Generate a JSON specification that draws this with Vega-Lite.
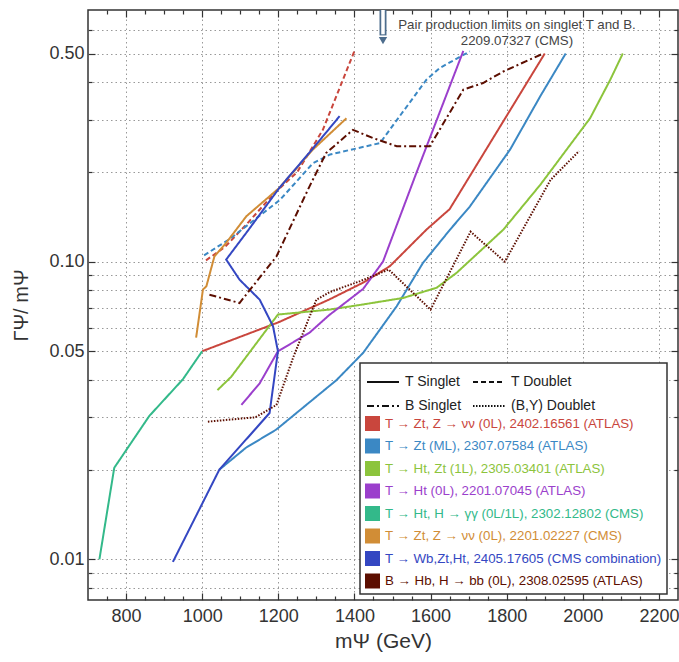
{
  "$schema": "https://vega.github.io/schema/vega-lite/v6.json",
  "width": 590,
  "height": 590,
  "autosize": "none",
  "padding": {"left": 88, "top": 10, "right": 1, "bottom": 62},
  "config": {
    "font": "Liberation Sans",
    "view": {"stroke": "#333", "strokeWidth": 1.5},
    "axis": {
      "labelFont": "Liberation Sans",
      "titleFont": "Liberation Sans",
      "labelColor": "#333",
      "titleColor": "#333",
      "tickColor": "#333",
      "tickWidth": 1.2,
      "domain": false,
      "gridColor": "#999",
      "gridDash": [1.5, 3],
      "gridWidth": 1,
      "titleFontWeight": "normal"
    }
  },
  "datasets": {
    "curves": [
      {"a": "A1", "s": "T Singlet", "i": 1, "m": 1000, "g": 0.05},
      {"a": "A1", "s": "T Singlet", "i": 2, "m": 1200, "g": 0.0625},
      {"a": "A1", "s": "T Singlet", "i": 3, "m": 1333, "g": 0.0745},
      {"a": "A1", "s": "T Singlet", "i": 4, "m": 1423, "g": 0.085},
      {"a": "A1", "s": "T Singlet", "i": 5, "m": 1493, "g": 0.0965},
      {"a": "A1", "s": "T Singlet", "i": 6, "m": 1589, "g": 0.128},
      {"a": "A1", "s": "T Singlet", "i": 7, "m": 1650, "g": 0.15},
      {"a": "A1", "s": "T Singlet", "i": 8, "m": 1900, "g": 0.5},
      {"a": "A1", "s": "T Doublet", "i": 1, "m": 1010, "g": 0.101},
      {"a": "A1", "s": "T Doublet", "i": 2, "m": 1060, "g": 0.112},
      {"a": "A1", "s": "T Doublet", "i": 3, "m": 1120, "g": 0.135},
      {"a": "A1", "s": "T Doublet", "i": 4, "m": 1190, "g": 0.17},
      {"a": "A1", "s": "T Doublet", "i": 5, "m": 1250, "g": 0.2},
      {"a": "A1", "s": "T Doublet", "i": 6, "m": 1317, "g": 0.277},
      {"a": "A1", "s": "T Doublet", "i": 7, "m": 1400, "g": 0.51},
      {"a": "A2", "s": "T Singlet", "i": 1, "m": 1045, "g": 0.02},
      {"a": "A2", "s": "T Singlet", "i": 2, "m": 1115, "g": 0.0237},
      {"a": "A2", "s": "T Singlet", "i": 3, "m": 1195, "g": 0.0273},
      {"a": "A2", "s": "T Singlet", "i": 4, "m": 1353, "g": 0.04},
      {"a": "A2", "s": "T Singlet", "i": 5, "m": 1423, "g": 0.0494},
      {"a": "A2", "s": "T Singlet", "i": 6, "m": 1511, "g": 0.0708},
      {"a": "A2", "s": "T Singlet", "i": 7, "m": 1580, "g": 0.099},
      {"a": "A2", "s": "T Singlet", "i": 8, "m": 1651, "g": 0.128},
      {"a": "A2", "s": "T Singlet", "i": 9, "m": 1703, "g": 0.153},
      {"a": "A2", "s": "T Singlet", "i": 10, "m": 1809, "g": 0.238},
      {"a": "A2", "s": "T Singlet", "i": 11, "m": 1888, "g": 0.359},
      {"a": "A2", "s": "T Singlet", "i": 12, "m": 1955, "g": 0.5},
      {"a": "A2", "s": "T Doublet", "i": 1, "m": 1005, "g": 0.105},
      {"a": "A2", "s": "T Doublet", "i": 2, "m": 1072, "g": 0.119},
      {"a": "A2", "s": "T Doublet", "i": 3, "m": 1204, "g": 0.161},
      {"a": "A2", "s": "T Doublet", "i": 4, "m": 1291, "g": 0.214},
      {"a": "A2", "s": "T Doublet", "i": 5, "m": 1336, "g": 0.229},
      {"a": "A2", "s": "T Doublet", "i": 6, "m": 1467, "g": 0.25},
      {"a": "A2", "s": "T Doublet", "i": 7, "m": 1589, "g": 0.408},
      {"a": "A2", "s": "T Doublet", "i": 8, "m": 1624, "g": 0.447},
      {"a": "A2", "s": "T Doublet", "i": 9, "m": 1703, "g": 0.508},
      {"a": "A3", "s": "T Singlet", "i": 1, "m": 1040, "g": 0.037},
      {"a": "A3", "s": "T Singlet", "i": 2, "m": 1076, "g": 0.041},
      {"a": "A3", "s": "T Singlet", "i": 3, "m": 1199, "g": 0.0664},
      {"a": "A3", "s": "T Singlet", "i": 4, "m": 1335, "g": 0.069},
      {"a": "A3", "s": "T Singlet", "i": 5, "m": 1423, "g": 0.0718},
      {"a": "A3", "s": "T Singlet", "i": 6, "m": 1528, "g": 0.0755},
      {"a": "A3", "s": "T Singlet", "i": 7, "m": 1616, "g": 0.0817},
      {"a": "A3", "s": "T Singlet", "i": 8, "m": 1668, "g": 0.0916},
      {"a": "A3", "s": "T Singlet", "i": 9, "m": 1791, "g": 0.128},
      {"a": "A3", "s": "T Singlet", "i": 10, "m": 1888, "g": 0.181},
      {"a": "A3", "s": "T Singlet", "i": 11, "m": 2019, "g": 0.303},
      {"a": "A3", "s": "T Singlet", "i": 12, "m": 2072, "g": 0.408},
      {"a": "A3", "s": "T Singlet", "i": 13, "m": 2105, "g": 0.5},
      {"a": "A4", "s": "T Singlet", "i": 1, "m": 1103, "g": 0.033},
      {"a": "A4", "s": "T Singlet", "i": 2, "m": 1151, "g": 0.039},
      {"a": "A4", "s": "T Singlet", "i": 3, "m": 1199, "g": 0.05},
      {"a": "A4", "s": "T Singlet", "i": 4, "m": 1282, "g": 0.0577},
      {"a": "A4", "s": "T Singlet", "i": 5, "m": 1333, "g": 0.066},
      {"a": "A4", "s": "T Singlet", "i": 6, "m": 1423, "g": 0.081},
      {"a": "A4", "s": "T Singlet", "i": 7, "m": 1475, "g": 0.1},
      {"a": "A4", "s": "T Singlet", "i": 8, "m": 1563, "g": 0.199},
      {"a": "A4", "s": "T Singlet", "i": 9, "m": 1686, "g": 0.51},
      {"a": "A5", "s": "T Singlet", "i": 1, "m": 730, "g": 0.01},
      {"a": "A5", "s": "T Singlet", "i": 2, "m": 769, "g": 0.0203},
      {"a": "A5", "s": "T Singlet", "i": 3, "m": 861, "g": 0.0303},
      {"a": "A5", "s": "T Singlet", "i": 4, "m": 949, "g": 0.0402},
      {"a": "A5", "s": "T Singlet", "i": 5, "m": 1000, "g": 0.05},
      {"a": "A6", "s": "T Singlet", "i": 1, "m": 984, "g": 0.0555},
      {"a": "A6", "s": "T Singlet", "i": 2, "m": 1002, "g": 0.0806},
      {"a": "A6", "s": "T Singlet", "i": 3, "m": 1011, "g": 0.0826},
      {"a": "A6", "s": "T Singlet", "i": 4, "m": 1032, "g": 0.104},
      {"a": "A6", "s": "T Singlet", "i": 5, "m": 1063, "g": 0.1156},
      {"a": "A6", "s": "T Singlet", "i": 6, "m": 1116, "g": 0.142},
      {"a": "A6", "s": "T Singlet", "i": 7, "m": 1203, "g": 0.177},
      {"a": "A6", "s": "T Singlet", "i": 8, "m": 1291, "g": 0.238},
      {"a": "A6", "s": "T Singlet", "i": 9, "m": 1379, "g": 0.303},
      {"a": "A7", "s": "T Singlet", "i": 1, "m": 923, "g": 0.0098},
      {"a": "A7", "s": "T Singlet", "i": 2, "m": 1045, "g": 0.02},
      {"a": "A7", "s": "T Singlet", "i": 3, "m": 1177, "g": 0.031},
      {"a": "A7", "s": "T Singlet", "i": 4, "m": 1199, "g": 0.05},
      {"a": "A7", "s": "T Singlet", "i": 5, "m": 1186, "g": 0.0607},
      {"a": "A7", "s": "T Singlet", "i": 6, "m": 1151, "g": 0.0745},
      {"a": "A7", "s": "T Singlet", "i": 7, "m": 1098, "g": 0.087},
      {"a": "A7", "s": "T Singlet", "i": 8, "m": 1063, "g": 0.1016},
      {"a": "A7", "s": "T Singlet", "i": 9, "m": 1116, "g": 0.125},
      {"a": "A7", "s": "T Singlet", "i": 10, "m": 1203, "g": 0.177},
      {"a": "A7", "s": "T Singlet", "i": 11, "m": 1291, "g": 0.24},
      {"a": "A7", "s": "T Singlet", "i": 12, "m": 1361, "g": 0.308},
      {"a": "A8", "s": "B Singlet", "i": 1, "m": 1019, "g": 0.0774},
      {"a": "A8", "s": "B Singlet", "i": 2, "m": 1098, "g": 0.0726},
      {"a": "A8", "s": "B Singlet", "i": 3, "m": 1195, "g": 0.104},
      {"a": "A8", "s": "B Singlet", "i": 4, "m": 1282, "g": 0.179},
      {"a": "A8", "s": "B Singlet", "i": 5, "m": 1326, "g": 0.232},
      {"a": "A8", "s": "B Singlet", "i": 6, "m": 1396, "g": 0.277},
      {"a": "A8", "s": "B Singlet", "i": 7, "m": 1449, "g": 0.26},
      {"a": "A8", "s": "B Singlet", "i": 8, "m": 1511, "g": 0.244},
      {"a": "A8", "s": "B Singlet", "i": 9, "m": 1598, "g": 0.244},
      {"a": "A8", "s": "B Singlet", "i": 10, "m": 1686, "g": 0.378},
      {"a": "A8", "s": "B Singlet", "i": 11, "m": 1738, "g": 0.398},
      {"a": "A8", "s": "B Singlet", "i": 12, "m": 1791, "g": 0.435},
      {"a": "A8", "s": "B Singlet", "i": 13, "m": 1896, "g": 0.5},
      {"a": "A8", "s": "(B,Y) Doublet", "i": 1, "m": 1015, "g": 0.029},
      {"a": "A8", "s": "(B,Y) Doublet", "i": 2, "m": 1140, "g": 0.03},
      {"a": "A8", "s": "(B,Y) Doublet", "i": 3, "m": 1195, "g": 0.033},
      {"a": "A8", "s": "(B,Y) Doublet", "i": 4, "m": 1240, "g": 0.048},
      {"a": "A8", "s": "(B,Y) Doublet", "i": 5, "m": 1300, "g": 0.0745},
      {"a": "A8", "s": "(B,Y) Doublet", "i": 6, "m": 1335, "g": 0.079},
      {"a": "A8", "s": "(B,Y) Doublet", "i": 7, "m": 1415, "g": 0.086},
      {"a": "A8", "s": "(B,Y) Doublet", "i": 8, "m": 1490, "g": 0.094},
      {"a": "A8", "s": "(B,Y) Doublet", "i": 9, "m": 1600, "g": 0.069},
      {"a": "A8", "s": "(B,Y) Doublet", "i": 10, "m": 1705, "g": 0.126},
      {"a": "A8", "s": "(B,Y) Doublet", "i": 11, "m": 1795, "g": 0.1},
      {"a": "A8", "s": "(B,Y) Doublet", "i": 12, "m": 1915, "g": 0.188},
      {"a": "A8", "s": "(B,Y) Doublet", "i": 13, "m": 1990, "g": 0.235}
    ]
  },
  "layer": [
    {
      "data": {"name": "curves"},
      "mark": {"type": "line", "clip": true},
      "encoding": {
        "x": {
          "field": "m", "type": "quantitative",
          "scale": {"domain": [700, 2250], "nice": false, "zero": false},
          "axis": {
            "orient": "bottom",
            "values": [750,800,850,900,950,1000,1050,1100,1150,1200,1250,1300,1350,1400,1450,1500,1550,1600,1650,1700,1750,1800,1850,1900,1950,2000,2050,2100,2150,2200],
            "format": "d",
            "labelExpr": "datum.value % 200 == 0 ? datum.label : ''",
            "labelFontSize": 18,
            "labelPadding": 14,
            "labelFlush": false,
            "tickSize": {"condition": {"test": "datum.value % 200 == 0", "value": -7}, "value": -4},
            "grid": true,
            "gridOpacity": {"condition": {"test": "datum.value % 200 == 0", "value": 1}, "value": 0},
            "title": "mΨ (GeV)",
            "titleFontSize": 21,
            "titleX": 295,
            "titleY": 30,
            "titleBaseline": "top"
          }
        },
        "y": {
          "field": "g", "type": "quantitative",
          "scale": {"type": "log", "domain": [0.0073, 0.7], "nice": false},
          "axis": {
            "orient": "left",
            "values": [0.008,0.009,0.01,0.02,0.03,0.04,0.05,0.06,0.07,0.08,0.09,0.1,0.2,0.3,0.4,0.5,0.6],
            "format": ".2f",
            "labelExpr": "(datum.value == 0.01 || datum.value == 0.05 || datum.value == 0.1 || datum.value == 0.5) ? datum.label : ''",
            "labelFontSize": 18,
            "labelPadding": 11,
            "tickSize": {"condition": {"test": "datum.value == 0.01 || datum.value == 0.05 || datum.value == 0.1 || datum.value == 0.5", "value": -7}, "value": -4},
            "grid": true,
            "title": "ΓΨ/ mΨ",
            "titleFontSize": 20,
            "titleX": -57,
            "titleY": 295
          }
        },
        "color": {
          "field": "a", "type": "nominal",
          "scale": {
            "domain": ["A1","A2","A3","A4","A5","A6","A7","A8"],
            "range": ["#c9463d","#3b88c4","#8cc43c","#9b3fcc","#33b98a","#d18d36","#3447c2","#5c0e00"]
          },
          "legend": {
            "orient": "none",
            "legendX": 272,
            "legendY": 353,
            "title": "\u00a0",
            "titleFontSize": 40,
            "titlePadding": 8,
            "padding": 5,
            "strokeColor": "#333",
            "fillColor": "white",
            "symbolType": "square",
            "symbolSize": 225,
            "rowPadding": 7.5,
            "labelFont": "Liberation Sans",
            "labelFontSize": 13.3,
            "labelOffset": 5,
            "labelLimit": 400,
            "zindex": 1,
            "labelExpr": "datum.value == 'A1' ? 'T → Zt, Z → νν (0L), 2402.16561 (ATLAS)' : datum.value == 'A2' ? 'T → Zt (ML), 2307.07584 (ATLAS)' : datum.value == 'A3' ? 'T → Ht, Zt (1L), 2305.03401 (ATLAS)' : datum.value == 'A4' ? 'T → Ht (0L), 2201.07045 (ATLAS)' : datum.value == 'A5' ? 'T → Ht, H → γγ (0L/1L), 2302.12802 (CMS)' : datum.value == 'A6' ? 'T → Zt, Z → νν (0L), 2201.02227 (CMS)' : datum.value == 'A7' ? 'T → Wb,Zt,Ht, 2405.17605 (CMS combination)' : 'B → Hb, H → bb (0L), 2308.02595 (ATLAS)'",
            "encode": {
              "symbols": {"update": {"fill": {"scale": "color", "field": "value"}, "fillOpacity": {"value": 1}, "strokeWidth": {"value": 0}}},
              "labels": {"update": {"fill": {"scale": "color", "field": "value"}}},
              "legend": {"update": {"strokeWidth": {"value": 1.5}}}
            }
          }
        },
        "strokeDash": {
          "field": "s", "type": "nominal",
          "scale": {
            "domain": ["T Singlet","T Doublet","B Singlet","(B,Y) Doublet"],
            "range": [[1,0],[5,3],[7,3,2,3],[1.5,1.5]]
          },
          "legend": {
            "orient": "none",
            "legendX": 278,
            "legendY": 355,
            "title": null,
            "direction": "horizontal",
            "columns": 2,
            "columnPadding": 7,
            "rowPadding": -10,
            "padding": 0,
            "symbolType": "stroke",
            "symbolSize": 1024,
            "symbolStrokeColor": "#111",
            "symbolStrokeWidth": 2.5,
            "labelFont": "Liberation Sans",
            "labelFontSize": 14,
            "labelColor": "#222",
            "labelOffset": 5,
            "zindex": 2
          }
        },
        "strokeWidth": {
          "field": "s", "type": "nominal",
          "scale": {"domain": ["T Singlet","T Doublet","B Singlet","(B,Y) Doublet"], "range": [2, 2, 2.5, 3]},
          "legend": null
        },
        "order": {"field": "i", "type": "quantitative"}
      }
    },
    {
      "data": {"name": "curves"},
      "mark": {"type": "point", "opacity": 0},
      "encoding": {
        "x": {
          "field": "m", "type": "quantitative",
          "axis": {
            "orient": "top",
            "values": [750,800,850,900,950,1000,1050,1100,1150,1200,1250,1300,1350,1400,1450,1500,1550,1600,1650,1700,1750,1800,1850,1900,1950,2000,2050,2100,2150,2200],
            "labels": false,
            "grid": false,
            "title": null,
            "tickSize": {"condition": {"test": "datum.value % 200 == 0", "value": -7}, "value": -4}
          }
        },
        "y": {
          "field": "g", "type": "quantitative",
          "axis": {
            "orient": "right",
            "values": [0.008,0.009,0.01,0.02,0.03,0.04,0.05,0.06,0.07,0.08,0.09,0.1,0.2,0.3,0.4,0.5,0.6],
            "labels": false,
            "grid": false,
            "title": null,
            "tickSize": {"condition": {"test": "datum.value == 0.01 || datum.value == 0.05 || datum.value == 0.1 || datum.value == 0.5", "value": -7}, "value": -4}
          }
        }
      }
    },
    {
      "data": {"values": [{}]},
      "mark": {"type": "rule", "color": "#4d6d8d", "strokeWidth": 7},
      "encoding": {
        "x": {"datum": 1475, "axis": null},
        "y": {"datum": 0.7, "axis": null},
        "y2": {"datum": 0.575}
      }
    },
    {
      "data": {"values": [{}]},
      "mark": {"type": "rule", "color": "white", "strokeWidth": 3.5},
      "encoding": {
        "x": {"datum": 1475, "axis": null},
        "y": {"datum": 0.7, "axis": null},
        "y2": {"datum": 0.58}
      }
    },
    {
      "data": {"values": [{}]},
      "mark": {"type": "point", "shape": "triangle-down", "filled": true, "color": "#4d6d8d", "size": 70, "opacity": 1},
      "encoding": {
        "x": {"datum": 1475, "axis": null},
        "y": {"datum": 0.552, "axis": null}
      }
    },
    {
      "data": {"values": [{}]},
      "mark": {"type": "text", "text": "Pair production limits on singlet T and B.", "font": "Liberation Sans", "fontSize": 13.3, "color": "#444", "align": "center", "baseline": "middle"},
      "encoding": {
        "x": {"datum": 1827, "axis": null},
        "y": {"datum": 0.625, "axis": null}
      }
    },
    {
      "data": {"values": [{}]},
      "mark": {"type": "text", "text": "2209.07327 (CMS)", "font": "Liberation Sans", "fontSize": 13.3, "color": "#444", "align": "center", "baseline": "middle"},
      "encoding": {
        "x": {"datum": 1827, "axis": null},
        "y": {"datum": 0.55, "axis": null}
      }
    }
  ],
  "resolve": {"axis": {"x": "independent", "y": "independent"}}
}
